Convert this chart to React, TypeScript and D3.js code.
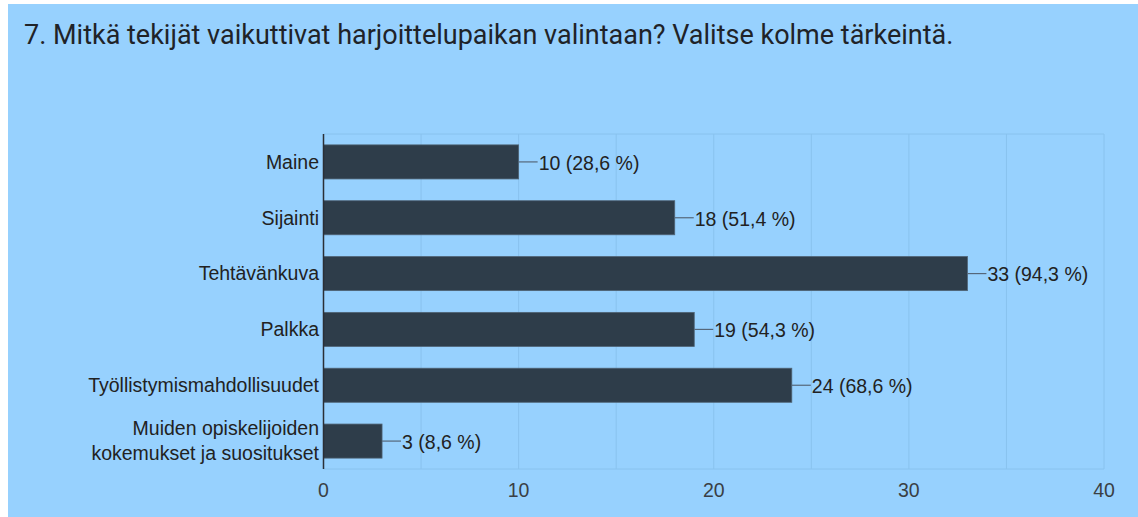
import React from "react";
import * as d3 from "d3";

const categories: string[][] = [
  ["Maine"],
  ["Sijainti"],
  ["Tehtävänkuva"],
  ["Palkka"],
  ["Työllistymismahdollisuudet"],
  ["Muiden opiskelijoiden", "kokemukset ja suositukset"],
];
const counts = [10, 18, 33, 19, 24, 3];
const percents = ["28,6", "51,4", "94,3", "54,3", "68,6", "8,6"];
const xTicks = [0, 10, 20, 30, 40];
const gridValues = [5, 10, 15, 20, 25, 30, 35, 40];
const title = "7. Mitkä tekijät vaikuttivat harjoittelupaikan valintaan? Valitse kolme tärkeintä.";

const W = 1138;
const H = 517;
const left = 323.5;
const right = 1104;
const top = 134;
const bottom = 469;

export default function App() {
  const x = d3.scaleLinear().domain([0, 40]).range([left, right]);
  const y = d3
    .scaleBand<number>()
    .domain(d3.range(categories.length))
    .range([top, bottom])
    .paddingInner(0.39)
    .paddingOuter(0.195);
  const grid = "#88C2EE";
  const font = "'Liberation Sans', Arial, sans-serif";
  const fs = 19.5;
  return (
    <svg
      width={W}
      height={H}
      style={{ position: "absolute", left: 0, top: 0, display: "block" }}
    >
      <rect x={0} y={0} width={W} height={H} fill="#ffffff" />
      <rect x={8} y={4} width={W - 8} height={H - 4} fill="#97D1FE" />
      <text
        x={24}
        y={44}
        fontFamily="Roboto, 'Noto Sans', sans-serif"
        fontSize={27}
        fill="#1f2328"
      >
        {title}
      </text>
      {gridValues.map((v) => (
        <line key={v} x1={x(v)} x2={x(v)} y1={top} y2={bottom} stroke={grid} strokeWidth={1} />
      ))}
      <line x1={left} x2={right} y1={top} y2={top} stroke={grid} strokeWidth={1} />
      <line x1={left} x2={right} y1={bottom} y2={bottom} stroke={grid} strokeWidth={1} />
      {counts.map((c, i) => {
        const y0 = y(i)!;
        const bh = y.bandwidth();
        const cy = y0 + bh / 2;
        const xe = x(c);
        return (
          <g key={i}>
            <rect
              x={left}
              y={y0}
              width={xe - left}
              height={bh}
              fill="#2E3D4A"
              stroke="#4f6375"
              strokeWidth={0.8}
            />
            <line x1={xe} x2={xe + 19} y1={cy} y2={cy} stroke="#55677a" strokeWidth={1.2} />
            <text
              x={xe + 20}
              y={cy + 1}
              dy="0.35em"
              fontFamily={font}
              fontSize={fs}
              fill="#222"
            >
              {`${c} (${percents[i]} %)`}
            </text>
            {categories[i].map((line, k) => {
              const n = categories[i].length;
              const lh = 25;
              const off = (k - (n - 1) / 2) * lh;
              return (
                <text
                  key={k}
                  x={319}
                  y={cy + off}
                  dy="0.35em"
                  textAnchor="end"
                  fontFamily={font}
                  fontSize={fs}
                  fill="#222"
                >
                  {line}
                </text>
              );
            })}
          </g>
        );
      })}
      <line x1={left} x2={left} y1={top} y2={bottom} stroke="#2a2f36" strokeWidth={1.5} />
      {xTicks.map((t) => (
        <text
          key={t}
          x={x(t)}
          y={490}
          dy="0.35em"
          textAnchor="middle"
          fontFamily={font}
          fontSize={fs}
          fill="#3a3f45"
        >
          {t}
        </text>
      ))}
    </svg>
  );
}
